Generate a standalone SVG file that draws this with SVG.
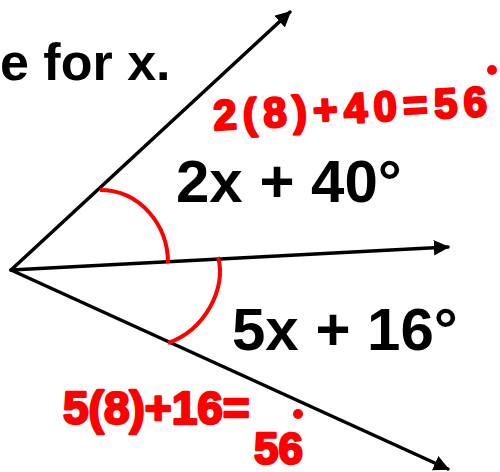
<svg xmlns="http://www.w3.org/2000/svg" width="500" height="472" viewBox="0 0 500 472">
<style>
.ray{stroke:#000;stroke-width:3.5;fill:none;stroke-linecap:round}
.arc{stroke:#f00;stroke-width:4;fill:none}
.lbl{font-family:"Liberation Sans",Arial,sans-serif;font-weight:bold;fill:#000}
.hand{font-family:"Liberation Sans",Arial,sans-serif;font-weight:bold;fill:#f00;stroke:#f00;stroke-width:2.5;stroke-linejoin:round}
</style>
<defs>
<marker id="ah" viewBox="0 0 10 10" refX="9" refY="5" markerWidth="4.5" markerHeight="4.5" orient="auto" markerUnits="strokeWidth">
<path d="M0,0 L10,5 L0,10 z" fill="#000"/>
</marker>
</defs>
<rect width="500" height="472" fill="#fff"/>
<g id="title"><text class="lbl" x="0" y="80" font-size="52">e for x.</text></g>
<g id="connectors">
<path class="ray" d="M11,270 L290,12" marker-end="url(#ah)"/>
<path class="ray" d="M11,270 L448,247" marker-end="url(#ah)"/>
<path class="ray" d="M11,270 L448,469" marker-end="url(#ah)"/>
</g>
<g id="arc-top"><path class="arc" d="M100,190 C140,190 168,225 168,263"/></g>
<g id="arc-bottom"><path class="arc" d="M218,257 C227,288 205,330 168,343"/></g>
<g id="label-top"><text class="lbl" x="176" y="202" font-size="60">2x + 40°</text></g>
<g id="label-bottom"><text class="lbl" x="232" y="350" font-size="60">5x + 16°</text></g>
<g id="work-top">
<text class="hand" x="214" y="130" font-size="42" textLength="274" lengthAdjust="spacing" transform="rotate(-3 214 130)">2(8)+40=56</text>
<circle cx="492" cy="70" r="5" fill="#f00"/>
</g>
<g id="work-bottom">
<text class="hand" x="63" y="424" font-size="46">5(8)+16=</text>
<text class="hand" x="254" y="464" font-size="44">56</text>
<circle cx="298" cy="414" r="5" fill="#f00"/>
</g>
</svg>
